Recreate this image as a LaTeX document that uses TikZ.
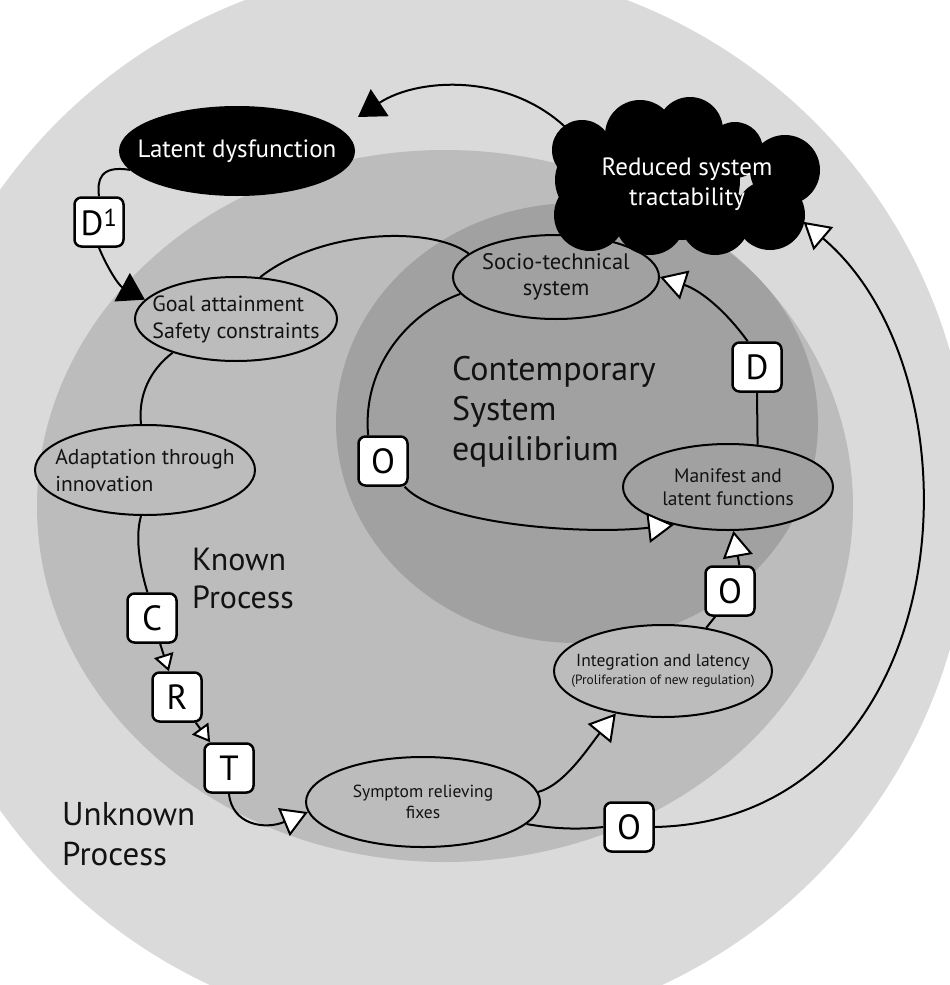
\documentclass[tikz,border=0pt]{standalone}
\usepackage{fontspec}
\setmainfont{PT Sans}
\usetikzlibrary{arrows.meta,shapes.geometric}
\definecolor{ringOuter}{HTML}{DADADA}
\definecolor{ringMid}{HTML}{BCBCBC}
\definecolor{ringInner}{HTML}{A1A1A1}
\definecolor{inkGray}{HTML}{121212}

\begin{document}
\begin{tikzpicture}[x=1pt,y=-1pt,
	bubble/.style={ellipse,draw,line width=2pt,fill=ringMid,inner xsep=-40pt,inner ysep=-10pt,align=center,text=inkGray},
	letterbox/.style={draw,rounded corners=7pt,fill=white,line width=2.5pt,minimum size=49pt,inner sep=0pt,font=\fontsize{35}{35}\selectfont},
	conn/.style={line width=2pt},
	hollow/.style={-{Triangle[length=26pt,width=30pt,fill=white]}},
	hollowsmall/.style={-{Triangle[length=17pt,width=20pt,fill=white]}},
	blackhead/.style={-{Triangle[length=26pt,width=32pt]}},
	zone/.style={text=inkGray,align=left,anchor=north west,inner sep=0pt}]
		\useasboundingbox (0,0) rectangle (950,985);
		\clip (0,0) rectangle (950,985);
		\fill[ringOuter] (436,500) circle (535pt);
		\fill[ringMid] (445,506) ellipse [x radius=408pt,y radius=356pt];
		\fill[ringInner] (577,423) ellipse [x radius=241pt,y radius=220pt];
		\node[zone,font=\fontsize{34}{40}\selectfont] (eqlabel) at (452,356) {Contemporary\\System\\equilibrium};
		\node[zone,font=\fontsize{32}{38}\selectfont] (known) at (192,548) {Known\\Process};
		\node[zone,font=\fontsize{33}{40}\selectfont] (unknown) at (62,802) {Unknown\\Process};
		\node[bubble,fill=black,text=white,minimum width=234pt,minimum height=88pt,font=\fontsize{25}{28}\selectfont] (latent) at (237,151) {Latent dysfunction};
		\node[bubble,fill=ringInner,minimum width=206pt,minimum height=84pt,font=\fontsize{22.5}{26}\selectfont] (socio) at (556,277) {Socio-technical\\system};
		\foreach \cx/\cy/\cr in {582/150/30,640/135/35,690/130/33,735/150/28,785/170/35,770/215/35,715/220/35,650/220/35,590/215/36,680/180/60,595/180/40}
			\fill[black] (\cx,\cy) circle (\cr pt);
		\node[ellipse,inner sep=-20pt,minimum width=266pt,minimum height=156pt,text=white,align=center,font=\fontsize{25}{30}\selectfont] (cloud) at (687,184) {Reduced system\\tractability};
		\node[bubble,minimum width=202pt,minimum height=84pt,align=left,font=\fontsize{22}{27}\selectfont] (goal) at (236,319) {Goal attainment\\Safety constraints};
		\node[bubble,minimum width=220pt,minimum height=90pt,align=left,font=\fontsize{21.5}{27}\selectfont] (adapt) at (145,470) {Adaptation through\\innovation};
		\node[bubble,fill=ringInner,minimum width=210pt,minimum height=86pt,font=\fontsize{19.5}{23}\selectfont] (manif) at (728,487) {Manifest and\\latent functions};
		\node[bubble,minimum width=218pt,minimum height=92pt,font=\fontsize{17.5}{18}\selectfont] (integ) at (663,671) {Integration and latency\\{\fontsize{13.4}{15}\selectfont(Proliferation of new regulation)}};
		\node[bubble,minimum width=234pt,minimum height=90pt,font=\fontsize{17.5}{21}\selectfont] (sym) at (423,802) {Symptom relieving\\fixes};
		\node[letterbox] (d1) at (99,222) {D\textsuperscript{1}};
		\node[letterbox] (oleft) at (383,461) {O};
		\node[letterbox] (dright) at (757,367) {D};
		\node[letterbox] (omid) at (730,591) {O};
		\node[letterbox] (obot) at (629,827) {O};
		\node[letterbox] (cbox) at (152,618) {C};
		\node[letterbox] (rbox) at (177,697) {R};
		\node[letterbox] (tbox) at (229,768) {T};
		\coordinate (ldtip) at (358,117);
		\draw[conn,blackhead] (cloud.158) .. controls (520,72) and (420,76) .. (ldtip);
		\draw[conn] (latent.190) .. controls (100,165) and (97,180) .. (d1.north);
		\draw[conn,blackhead] (d1.south) .. controls (106,265) and (118,285) .. (goal.168);
		\draw[conn] (goal.60) .. controls (320,230) and (430,225) .. (socio.165);
		\draw[conn] (goal.208) .. controls (150,370) and (138,395) .. (adapt.95);
		\draw[conn] (adapt.265) .. controls (134,540) and (142,575) .. (cbox.100);
		\draw[conn,hollowsmall] (cbox) -- (rbox);
		\draw[conn,hollowsmall] (rbox) -- (tbox);
		\draw[conn,hollow] (tbox.south) .. controls (232,825) and (265,830) .. (sym.185);
		\draw[conn,hollow] (sym.5) .. controls (565,785) and (590,745) .. (integ.222);
		\draw[conn] (sym.-12) .. controls (560,830) and (585,829) .. (obot.west);
		\draw[conn,hollow] (obot.east) .. controls (960,820) and (990,380) .. (cloud.-18);
		\draw[conn] (integ.45) -- (omid.240);
		\draw[conn,hollow] (omid.70) -- (manif.-83);
		\draw[conn] (manif.55) -- (dright.south);
		\draw[conn,hollow] (dright.110) .. controls (725,310) and (700,290) .. (socio.east);
		\draw[conn] (socio.190) .. controls (410,312) and (362,365) .. (oleft.120);
		\draw[conn,hollow] (oleft.-50) .. controls (440,525) and (585,535) .. (manif.215);
\end{tikzpicture}
\end{document}
